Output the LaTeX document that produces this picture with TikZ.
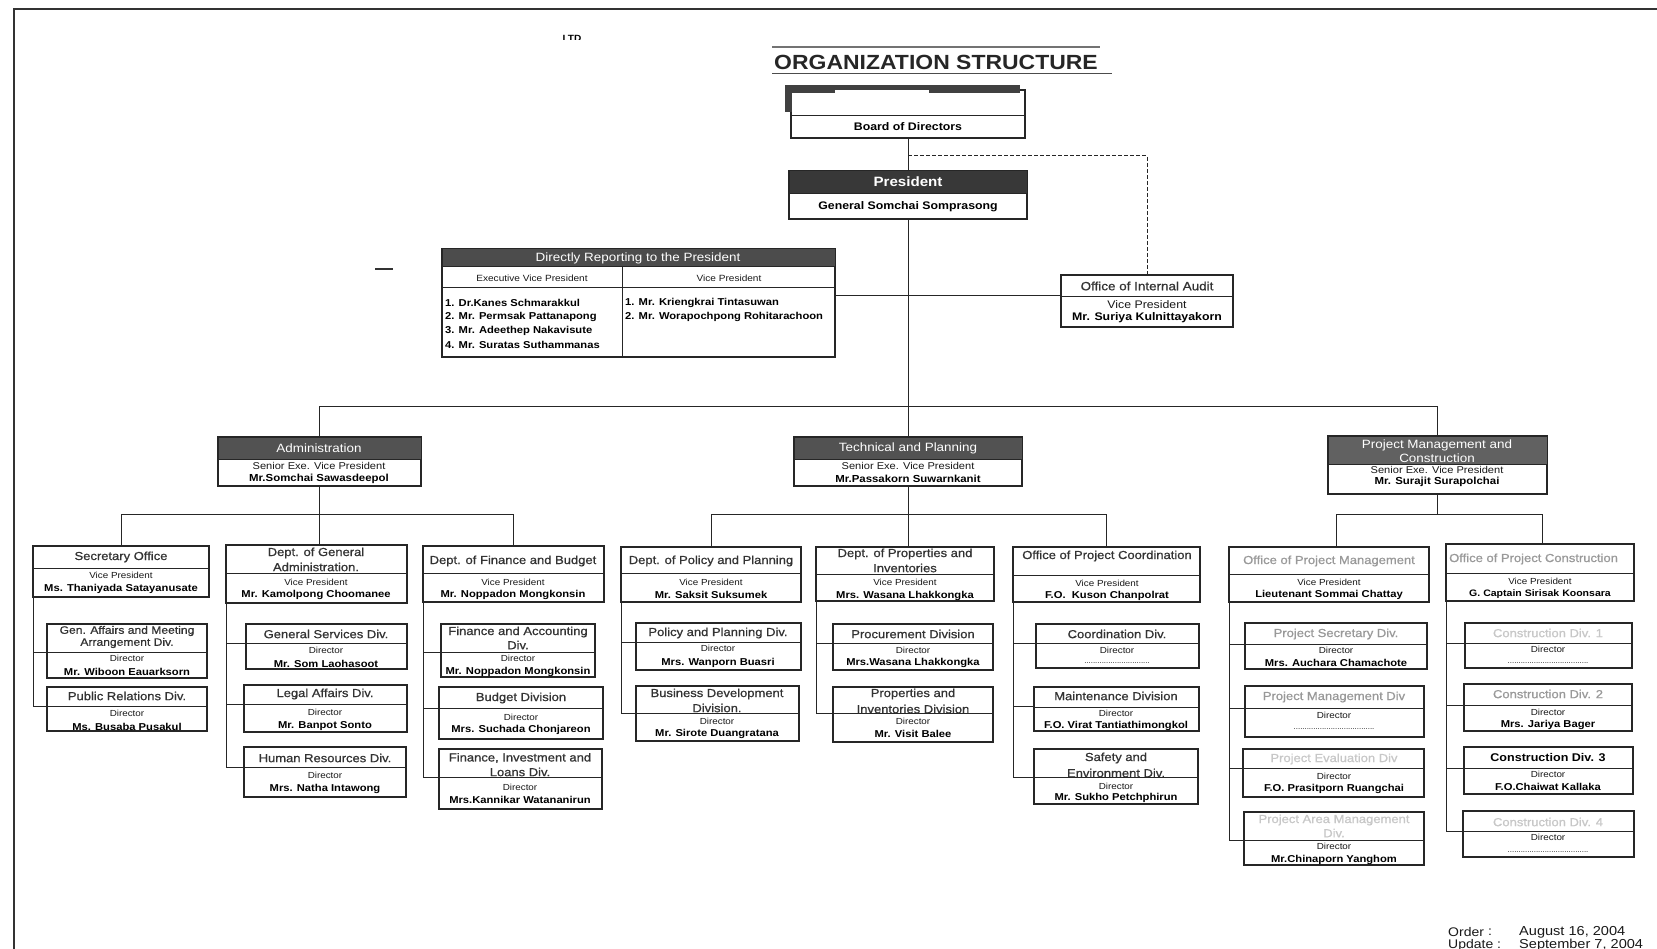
\documentclass[tikz,border=0pt]{standalone}
\usepackage{fontspec}
\setmainfont[FakeStretch=1.12]{Liberation Sans}
\newfontfamily\semibold[FakeStretch=1.12,FakeBold=0.8]{Liberation Sans}
\newcommand\fs[1]{\fontsize{#1}{#1}\selectfont}
\newcounter{tn}
% text node: \tx[extra]{style}{x,y}{text}
\newcommand\tx[4][]{\stepcounter{tn}\node[#2,#1] (tx\arabic{tn}) at (#3) {#4};}
% plain box with one divider: name, x1, y1, x2, y2, ydiv
\newcommand\obox[6]{%
  \node[obx, minimum width={(#4)-(#2)}, minimum height={(#5)-(#3)}] (#1) at ({((#2)+(#4))/2},{((#3)+(#5))/2}) {};
  \draw[ln] (#2,#6) -- (#4,#6);}
% box with dark header band: name, x1, y1, x2, y2, yheader, fill
\newcommand\hdbox[7]{%
  \node[obx, minimum width={(#4)-(#2)}, minimum height={(#5)-(#3)}] (#1) at ({((#2)+(#4))/2},{((#3)+(#5))/2}) {};
  \fill[#7] (#2,#3) rectangle (#4,#6);
  \draw[ln] (#2,#3) rectangle (#4,#5);
  \draw[ln] (#2,#6) -- (#4,#6);}
\tikzset{
  obx/.style={draw=black!85, line width=1.1pt, fill=white, inner sep=0pt, outer sep=0pt, rectangle},
  ln/.style={draw=black!85, line width=1pt},
  ttl/.style={inner sep=0pt, font=\semibold\fs{11.6}, text=black!80},
  sml/.style={inner sep=0pt, font=\fs{8.8}, text=black!90},
  nm/.style={inner sep=0pt, font=\bfseries\fs{10}},
  hdt/.style={inner sep=0pt, font=\fs{12}, text=white},
  pale/.style={text=black!40},
  paler/.style={text=black!22},
}
\begin{document}
\begin{tikzpicture}[x=1pt,y=-1pt]
\fill[white] (0,0) rectangle (1657,949);
\useasboundingbox (0,0) rectangle (1657,949);

% sheet frame
\draw[line width=2.2pt, black!80] (14,949) -- (14,9) -- (1657,9);
\begin{scope}
  \clip (540,27) rectangle (600,40);
  \node[inner sep=0pt, font=\bfseries\fs{9}] (ltd) at (572,38) {LTD};
\end{scope}
\draw[line width=1.6pt, black!80] (375,269) -- (393,269);

% title
\draw[line width=1.6pt, black!55] (772,47) -- (1100,47);
\node[inner sep=0pt, font=\bfseries\fs{20.5}, text=black!85] (title) at (936,62) {ORGANIZATION STRUCTURE};
\draw[line width=1pt, black!70] (772,74) -- (1112,74);

% board of directors
\obox{board}{791}{90}{1025}{138}{116}
\fill[black!75] (785,85) rectangle (1020,93);
\fill[black!75] (785,85) rectangle (792,112);
\fill[white] (835,90) rectangle (929,114);
\tx[font=\bfseries\fs{11}]{nm}{908,127}{Board of Directors}

% president
\hdbox{pres}{789}{171}{1027}{219}{194}{black!78}
\tx[font=\bfseries\fs{13.5}]{hdt}{908,182}{President}
\tx[font=\bfseries\fs{11}]{nm}{908,207}{General Somchai Somprasong}

% directly reporting to the president
\hdbox{direct}{442}{249}{835}{357}{267}{black!70}
\draw[ln] (442,288) -- (835,288);
\draw[ln] (622,267) -- (622,357);
\tx{hdt}{638,258}{Directly Reporting to the President}
\tx[font=\fs{9}]{sml}{532,278}{Executive Vice President}
\tx[font=\fs{9}]{sml}{729,278}{Vice President}
\tx[anchor=west]{nm}{445,303}{1. Dr.Kanes Schmarakkul}
\tx[anchor=west]{nm}{445,317}{2. Mr. Permsak Pattanapong}
\tx[anchor=west]{nm}{445,331}{3. Mr. Adeethep Nakavisute}
\tx[anchor=west]{nm}{445,345}{4. Mr. Suratas Suthammanas}
\tx[anchor=west]{nm}{625,303}{1. Mr. Kriengkrai Tintasuwan}
\tx[anchor=west]{nm}{625,317}{2. Mr. Worapochpong Rohitarachoon}

% internal audit
\obox{audit}{1061}{275}{1233}{327}{297}
\tx[font=\semibold\fs{12}]{ttl}{1147,286}{Office of Internal Audit}
\tx[font=\fs{11}]{sml}{1147,305}{Vice President}
\tx[font=\bfseries\fs{11}]{nm}{1147,318}{Mr. Suriya Kulnittayakorn}

% senior executive vice presidents
\hdbox{adm}{218}{437}{421}{486}{459}{black!68}
\tx{hdt}{319,448}{Administration}
\tx[font=\fs{9.9}]{sml}{319,466}{Senior Exe. Vice President}
\tx[font=\bfseries\fs{10.2}]{nm}{319,479}{Mr.Somchai Sawasdeepol}

\hdbox{tech}{794}{437}{1022}{486}{459}{black!68}
\tx{hdt}{908,448}{Technical and Planning}
\tx[font=\fs{9.9}]{sml}{908,466}{Senior Exe. Vice President}
\tx[font=\bfseries\fs{10.2}]{nm}{908,479}{Mr.Passakorn Suwarnkanit}

\hdbox{pmc}{1328}{436}{1547}{494}{464}{black!62}
\tx{hdt}{1437,445}{Project Management and}
\tx{hdt}{1437,458}{Construction}
\tx[font=\fs{9.9}]{sml}{1437,470}{Senior Exe. Vice President}
\tx[font=\bfseries\fs{10.2}]{nm}{1437,482}{Mr. Surajit Surapolchai}

% departments
\obox{sec}{33}{546}{209}{597}{568}
\tx{ttl}{121,557}{Secretary Office}
\tx{sml}{121,575}{Vice President}
\tx{nm}{121,589}{Ms. Thaniyada Satayanusate}

\obox{dga}{226}{545}{407}{603}{573}
\tx{ttl}{316,553}{Dept. of General}
\tx{ttl}{316,567}{Administration.}
\tx{sml}{316,582}{Vice President}
\tx{nm}{316,595}{Mr. Kamolpong Choomanee}

\obox{fb}{423}{546}{604}{602}{573}
\tx{ttl}{513,561}{Dept. of Finance and Budget}
\tx{sml}{513,582}{Vice President}
\tx{nm}{513,595}{Mr. Noppadon Mongkonsin}

\obox{pp}{621}{547}{801}{602}{573}
\tx{ttl}{711,561}{Dept. of Policy and Planning}
\tx{sml}{711,582}{Vice President}
\tx{nm}{711,595}{Mr. Saksit Suksumek}

\obox{pi}{816}{547}{994}{601}{574}
\tx{ttl}{905,554}{Dept. of Properties and}
\tx{ttl}{905,568}{Inventories}
\tx{sml}{905,582}{Vice President}
\tx{nm}{905,596}{Mrs. Wasana Lhakkongka}

\obox{opc}{1013}{547}{1200}{602}{575}
\tx{ttl}{1107,556}{Office of Project Coordination}
\tx{sml}{1107,583}{Vice President}
\tx{nm}{1107,596}{F.O.\ \ Kuson Chanpolrat}

\obox{opm}{1229}{547}{1429}{602}{574}
\tx[pale]{ttl}{1329,561}{Office of Project Management}
\tx{sml}{1329,582}{Vice President}
\tx{nm}{1329,595}{Lieutenant Sommai Chattay}

\obox{opcn}{1446}{544}{1634}{601}{573}
\begin{scope}
  \clip (1447,545) rectangle (1633,572);
  \tx[pale,anchor=west]{ttl}{1449,559}{Office of Project Construction}
\end{scope}
\tx{sml}{1540,581}{Vice President}
\tx[font=\bfseries\fs{9.4}]{nm}{1540,594}{G. Captain Sirisak Koonsara}

% divisions: administration
\obox{ga}{47}{624}{207}{678}{652}
\tx[font=\semibold\fs{10.8}]{ttl}{127,631}{Gen. Affairs and Meeting}
\tx[font=\semibold\fs{10.8}]{ttl}{127,643}{Arrangement Div.}
\tx{sml}{127,658}{Director}
\tx{nm}{127,672}{Mr. Wiboon Eauarksorn}

\obox{pr}{47}{687}{207}{731}{706}
\tx{ttl}{127,696}{Public Relations Div.}
\tx{sml}{127,713}{Director}
\tx{nm}{127,727}{Ms. Busaba Pusakul}

\obox{gs}{246}{624}{407}{669}{643}
\tx{ttl}{326,634}{General Services Div.}
\tx{sml}{326,650}{Director}
\tx{nm}{326,664}{Mr. Som Laohasoot}

\obox{la}{244}{685}{407}{732}{704}
\tx{ttl}{325,694}{Legal Affairs Div.}
\tx{sml}{325,712}{Director}
\tx{nm}{325,726}{Mr. Banpot Sonto}

\obox{hr}{244}{747}{406}{797}{767}
\tx{ttl}{325,758}{Human Resources Div.}
\tx{sml}{325,775}{Director}
\tx{nm}{325,789}{Mrs. Natha Intawong}

\obox{fa}{441}{624}{595}{677}{652}
\tx{ttl}{518,632}{Finance and Accounting}
\tx{ttl}{518,645}{Div.}
\tx{sml}{518,658}{Director}
\tx{nm}{518,672}{Mr. Noppadon Mongkonsin}

\obox{bd}{439}{687}{603}{739}{708}
\tx{ttl}{521,698}{Budget Division}
\tx{sml}{521,717}{Director}
\tx{nm}{521,730}{Mrs. Suchada Chonjareon}

\obox{fil}{439}{749}{602}{809}{777}
\tx{ttl}{520,758}{Finance, Investment and}
\tx{ttl}{520,772}{Loans Div.}
\tx{sml}{520,787}{Director}
\tx{nm}{520,800}{Mrs.Kannikar Watananirun}

% divisions: technical and planning
\obox{ppd}{636}{623}{801}{670}{642}
\tx{ttl}{718,633}{Policy and Planning Div.}
\tx{sml}{718,648}{Director}
\tx{nm}{718,663}{Mrs. Wanporn Buasri}

\obox{bdev}{636}{686}{799}{741}{713}
\tx{ttl}{717,694}{Business Development}
\tx{ttl}{717,708}{Division.}
\tx{sml}{717,721}{Director}
\tx{nm}{717,734}{Mr. Sirote Duangratana}

\obox{proc}{833}{624}{993}{670}{643}
\tx{ttl}{913,634}{Procurement Division}
\tx{sml}{913,650}{Director}
\tx{nm}{913,663}{Mrs.Wasana Lhakkongka}

\obox{pidv}{833}{687}{993}{742}{713}
\tx{ttl}{913,694}{Properties and}
\tx{ttl}{913,709}{Inventories Division}
\tx{sml}{913,721}{Director}
\tx{nm}{913,734}{Mr. Visit Balee}

\obox{cd}{1036}{624}{1199}{668}{643}
\tx{ttl}{1117,634}{Coordination Div.}
\tx{sml}{1117,650}{Director}
\tx[font=\fs{7}]{nm}{1117,663}{..............................}

\obox{md}{1034}{687}{1199}{731}{707}
\tx{ttl}{1116,696}{Maintenance Division}
\tx{sml}{1116,713}{Director}
\tx{nm}{1116,726}{F.O. Virat Tantiathimongkol}

\obox{se}{1034}{749}{1198}{804}{777}
\tx{ttl}{1116,758}{Safety and}
\tx{ttl}{1116,773}{Environment Div.}
\tx{sml}{1116,786}{Director}
\tx{nm}{1116,798}{Mr. Sukho Petchphirun}

% divisions: project management and construction
\obox{ps}{1245}{623}{1427}{669}{644}
\tx[pale]{ttl}{1336,634}{Project Secretary Div.}
\tx{sml}{1336,650}{Director}
\tx{nm}{1336,663}{Mrs. Auchara Chamachote}

\obox{pmd}{1245}{686}{1424}{737}{708}
\tx[pale]{ttl}{1334,697}{Project Management Div}
\tx{sml}{1334,715}{Director}
\tx[font=\fs{7}]{nm}{1334,729}{.....................................}

\obox{ped}{1243}{749}{1424}{797}{768}
\tx[paler]{ttl}{1334,759}{Project Evaluation Div}
\tx{sml}{1334,776}{Director}
\tx{nm}{1334,789}{F.O. Prasitporn Ruangchai}

\obox{pam}{1244}{812}{1424}{865}{840}
\tx[paler]{ttl}{1334,820}{Project Area Management}
\tx[paler]{ttl}{1334,833}{Div.}
\tx{sml}{1334,846}{Director}
\tx{nm}{1334,860}{Mr.Chinaporn Yanghom}

\obox{cA}{1465}{623}{1632}{668}{643}
\tx[paler]{ttl}{1548,633}{Construction Div. 1}
\tx{sml}{1548,649}{Director}
\tx[font=\fs{7}]{nm}{1548,663}{.....................................}

\obox{cB}{1464}{684}{1632}{731}{705}
\tx[pale]{ttl}{1548,694}{Construction Div. 2}
\tx{sml}{1548,712}{Director}
\tx{nm}{1548,725}{Mrs. Jariya Bager}

\obox{cC}{1464}{747}{1633}{794}{768}
\tx[font=\bfseries\fs{11.2},text=black]{ttl}{1548,758}{Construction Div. 3}
\tx{sml}{1548,774}{Director}
\tx{nm}{1548,787}{F.O.Chaiwat Kallaka}

\obox{cD}{1463}{811}{1634}{857}{831}
\tx[paler]{ttl}{1548,822}{Construction Div. 4}
\tx{sml}{1548,837}{Director}
\tx[font=\fs{7}]{nm}{1548,852}{.....................................}

% reporting lines, top
\coordinate (dj) at (908,156);
\draw[ln] (board.south) -- (pres.north);
\draw[ln, dashed, dash pattern=on 4pt off 2pt] (dj) -| (audit.north);
\draw[ln] (pres.south) -- (tech.north);
\draw[ln] (direct.east |- 0,296) -- (audit.west |- 0,296);
\draw[ln] (adm.north) -- ++(0,-31) -| (pmc.north);

% reporting lines to departments
\draw[ln] (adm.south) -- (adm.south |- dga.north);
\draw[ln] (sec.north) -- ++(0,-32) -| (fb.north);
\draw[ln] (tech.south) -- (tech.south |- pi.north);
\draw[ln] (pp.north) -- ++(0,-33) -| (opc.north);
\draw[ln] (pmc.south) -- ++(0,20);
\draw[ln] ([xshift=7pt]opm.north) -- ++(0,-33) -| ([xshift=2pt]opcn.north);

% reporting lines to divisions
\draw[ln] (sec.south west) |- (ga.west |- 0,652);
\draw[ln] (sec.south west) |- (pr.west |- 0,706);
\draw[ln] (dga.south west) |- (gs.west |- 0,643);
\draw[ln] (dga.south west) |- (la.west |- 0,704);
\draw[ln] (dga.south west) |- (hr.west |- 0,767);
\draw[ln] (fb.south west) |- (fa.west |- 0,652);
\draw[ln] (fb.south west) |- (bd.west |- 0,708);
\draw[ln] (fb.south west) |- (fil.west |- 0,777);
\draw[ln] (pp.south west) |- (ppd.west |- 0,642);
\draw[ln] (pp.south west) |- (bdev.west |- 0,713);
\draw[ln] (pi.south west) |- (proc.west |- 0,643);
\draw[ln] (pi.south west) |- (pidv.west |- 0,713);
\draw[ln] (opc.south west) |- (cd.west |- 0,643);
\draw[ln] (opc.south west) |- (md.west |- 0,706);
\draw[ln] (opc.south west) |- (se.west |- 0,777);
\draw[ln] (opm.south west) |- (ps.west |- 0,644);
\draw[ln] (opm.south west) |- (pmd.west |- 0,708);
\draw[ln] (opm.south west) |- (ped.west |- 0,768);
\draw[ln] (opm.south west) |- (pam.west |- 0,840);
\draw[ln] (opcn.south west) |- (cA.west |- 0,643);
\draw[ln] (opcn.south west) |- (cB.west |- 0,705);
\draw[ln] (opcn.south west) |- (cC.west |- 0,768);
\draw[ln] (opcn.south west) |- (cD.west |- 0,831);

% issue dates
\tx[font=\fs{12.5},anchor=west]{sml}{1448,932}{Order}
\tx[font=\fs{12.5}]{sml}{1490,932}{:}
\tx[font=\fs{13},anchor=west]{sml}{1519,932}{August 16, 2004}
\tx[font=\fs{12.5},anchor=west]{sml}{1448,945}{Update :}
\tx[font=\fs{13},anchor=west]{sml}{1519,945}{September 7, 2004}
\end{tikzpicture}
\end{document}
